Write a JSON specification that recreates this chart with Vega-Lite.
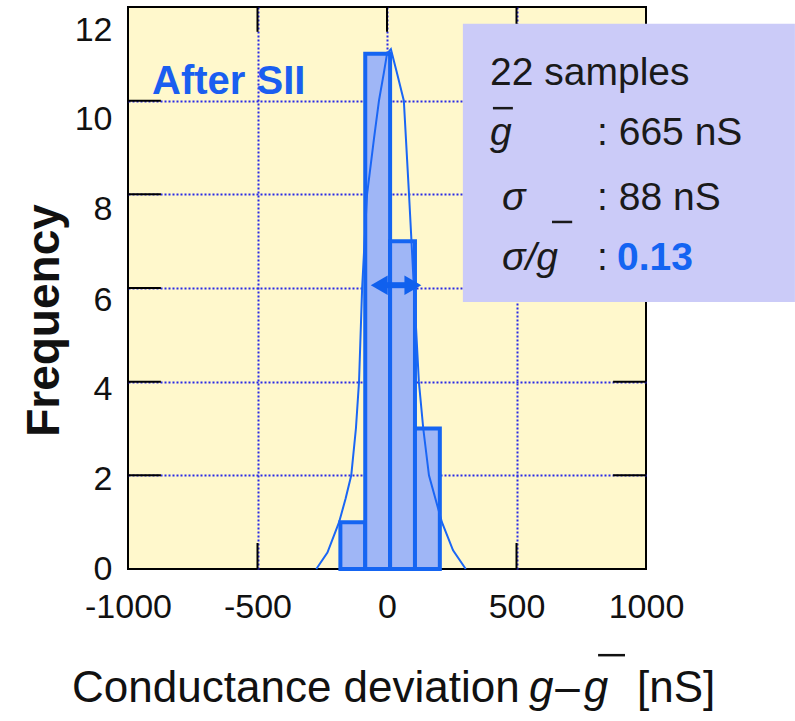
{
  "$schema": "https://vega.github.io/schema/vega-lite/v6.json",
  "width": 518,
  "height": 562,
  "autosize": {"type": "none"},
  "padding": {"left": 128, "top": 7, "right": 149, "bottom": 152},
  "background": "#ffffff",
  "view": {"fill": "#fff8cc", "stroke": "#000000", "strokeWidth": 2},
  "config": {"font": "Liberation Sans"},
  "datasets": {
    "bins": [
      {"bin_start": -180, "bin_end": -84, "count": 1},
      {"bin_start": -84, "bin_end": 12, "count": 11},
      {"bin_start": 12, "bin_end": 108, "count": 7},
      {"bin_start": 108, "bin_end": 204, "count": 3}
    ],
    "curve": [
      {"dev": -273, "freq": 0},
      {"dev": -230, "freq": 0.35},
      {"dev": -185, "freq": 1},
      {"dev": -160, "freq": 1.5},
      {"dev": -138, "freq": 2},
      {"dev": -120, "freq": 3},
      {"dev": -108, "freq": 4},
      {"dev": -96, "freq": 6},
      {"dev": -77, "freq": 8},
      {"dev": -50, "freq": 9.2},
      {"dev": -31, "freq": 10},
      {"dev": -12, "freq": 10.6},
      {"dev": 0, "freq": 11.0},
      {"dev": 15, "freq": 11.1},
      {"dev": 38, "freq": 10.6},
      {"dev": 65, "freq": 10},
      {"dev": 85, "freq": 8},
      {"dev": 104, "freq": 6},
      {"dev": 123, "freq": 4},
      {"dev": 140, "freq": 3},
      {"dev": 162, "freq": 2},
      {"dev": 212, "freq": 1},
      {"dev": 255, "freq": 0.4},
      {"dev": 304, "freq": 0}
    ],
    "yticks": [{"v": 2}, {"v": 4}, {"v": 6}, {"v": 8}, {"v": 10}],
    "xticks": [{"v": -500}, {"v": 0}, {"v": 500}]
  },
  "layer": [
    {
      "data": {"name": "bins"},
      "mark": {"type": "rect", "opacity": 0},
      "encoding": {
        "x": {
          "field": "bin_start",
          "type": "quantitative",
          "scale": {"domain": [-1000, 1000], "nice": false, "zero": false},
          "axis": {
            "values": [-1000, -500, 0, 500, 1000],
            "labelExpr": "datum.value < 0 ? '-' + abs(datum.value) : '' + datum.value",
            "grid": true,
            "gridDash": [2, 2],
            "gridWidth": 2,
            "gridColor": {"condition": {"test": "abs(datum.value) == 1000", "value": "transparent"}, "value": "#2a2ae6"},
            "ticks": false,
            "domain": false,
            "labelFontSize": 34,
            "labelColor": "#111111",
            "labelPadding": 21,
            "labelFlush": false,
            "labelOverlap": false,
            "title": null
          }
        },
        "x2": {"field": "bin_end"},
        "y": {
          "field": "count",
          "type": "quantitative",
          "scale": {"domain": [0, 12], "nice": false, "zero": false},
          "axis": {
            "orient": "left",
            "values": [0, 2, 4, 6, 8, 10, 12],
            "grid": true,
            "gridDash": [2, 2],
            "gridWidth": 2,
            "gridColor": {"condition": {"test": "datum.value == 0 || datum.value == 12", "value": "transparent"}, "value": "#2a2ae6"},
            "ticks": false,
            "domain": false,
            "labelFontSize": 34,
            "labelColor": "#111111",
            "labelPadding": 16,
            "labelOverlap": false,
            "labelFlush": false,
            "labelOffset": {"condition": [
              {"test": "datum.value == 12", "value": 23},
              {"test": "datum.value == 10", "value": 19},
              {"test": "datum.value == 8", "value": 15},
              {"test": "datum.value == 6", "value": 12},
              {"test": "datum.value == 4", "value": 8},
              {"test": "datum.value == 2", "value": 4}
            ], "value": 0},
            "title": "Frequency",
            "titleFontSize": 46,
            "titleFontWeight": "bold",
            "titleColor": "#111111",
            "titleAngle": 270,
            "titleAlign": "center",
            "titleBaseline": "middle",
            "titleX": -84,
            "titleY": 313
          }
        },
        "y2": {"datum": 0}
      }
    },
    {
      "data": {"name": "yticks"},
      "mark": {"type": "rule", "color": "#000000", "strokeWidth": 2},
      "encoding": {
        "y": {"field": "v", "type": "quantitative"},
        "x": {"datum": -1000},
        "x2": {"datum": -873}
      }
    },
    {
      "data": {"name": "yticks"},
      "mark": {"type": "rule", "color": "#000000", "strokeWidth": 2},
      "encoding": {
        "y": {"field": "v", "type": "quantitative"},
        "x": {"datum": 873},
        "x2": {"datum": 1000}
      }
    },
    {
      "data": {"name": "xticks"},
      "mark": {"type": "rule", "color": "#000000", "strokeWidth": 2},
      "encoding": {
        "x": {"field": "v", "type": "quantitative"},
        "y": {"datum": 0},
        "y2": {"datum": 0.555}
      }
    },
    {
      "data": {"name": "xticks"},
      "mark": {"type": "rule", "color": "#000000", "strokeWidth": 2},
      "encoding": {
        "x": {"field": "v", "type": "quantitative"},
        "y": {"datum": 11.47},
        "y2": {"datum": 12}
      }
    },
    {
      "data": {"name": "bins"},
      "mark": {"type": "rect", "fill": "#9fb6f6", "stroke": "#1565f2", "strokeWidth": 4},
      "encoding": {
        "x": {"field": "bin_start", "type": "quantitative"},
        "x2": {"field": "bin_end"},
        "y": {"field": "count", "type": "quantitative"},
        "y2": {"datum": 0}
      }
    },
    {
      "data": {"name": "curve"},
      "mark": {"type": "line", "color": "#1a66f5", "strokeWidth": 2},
      "encoding": {
        "x": {"field": "dev", "type": "quantitative"},
        "y": {"field": "freq", "type": "quantitative"}
      }
    },
    {
      "data": {"values": [{}]},
      "mark": {"type": "rule", "color": "#1060ee", "strokeWidth": 6},
      "encoding": {
        "x": {"datum": -23},
        "x2": {"datum": 93},
        "y": {"datum": 6.06}
      }
    },
    {
      "data": {"values": [{}]},
      "mark": {"type": "point", "shape": "triangle-left", "filled": true, "color": "#1060ee", "size": 380, "opacity": 1},
      "encoding": {
        "x": {"datum": -30},
        "y": {"datum": 6.06}
      }
    },
    {
      "data": {"values": [{}]},
      "mark": {"type": "point", "shape": "triangle-right", "filled": true, "color": "#1060ee", "size": 380, "opacity": 1},
      "encoding": {
        "x": {"datum": 100},
        "y": {"datum": 6.06}
      }
    },
    {
      "data": {"values": [{}]},
      "mark": {"type": "text", "text": "After SII", "fontSize": 40, "fontWeight": "bold", "color": "#1a5ef0", "align": "left", "baseline": "alphabetic"},
      "encoding": {
        "x": {"datum": -907},
        "y": {"datum": 10.14}
      }
    },
    {
      "data": {"values": [{}]},
      "mark": {"type": "rect", "fill": "#cbcbf8", "clip": false},
      "encoding": {
        "x": {"datum": 293},
        "x2": {"datum": 1575},
        "y": {"datum": 11.64},
        "y2": {"datum": 5.7}
      }
    },
    {
      "data": {"values": [{}]},
      "mark": {"type": "text", "text": "22 samples", "fontSize": 39, "color": "#1a1a1a", "align": "left", "baseline": "alphabetic", "clip": false},
      "encoding": {"x": {"datum": 398}, "y": {"datum": 10.34}}
    },
    {
      "data": {"values": [{}]},
      "mark": {"type": "text", "text": "g", "fontSize": 39, "fontStyle": "italic", "color": "#1a1a1a", "align": "left", "baseline": "alphabetic", "clip": false},
      "encoding": {"x": {"datum": 398}, "y": {"datum": 9.05}}
    },
    {
      "data": {"values": [{}]},
      "mark": {"type": "rule", "color": "#1a1a1a", "strokeWidth": 2.5, "clip": false},
      "encoding": {"x": {"datum": 409}, "x2": {"datum": 486}, "y": {"datum": 9.84}}
    },
    {
      "data": {"values": [{}]},
      "mark": {"type": "text", "text": ": 665 nS", "fontSize": 39, "color": "#1a1a1a", "align": "left", "baseline": "alphabetic", "clip": false},
      "encoding": {"x": {"datum": 811}, "y": {"datum": 9.05}}
    },
    {
      "data": {"values": [{}]},
      "mark": {"type": "text", "text": "σ", "fontSize": 39, "fontStyle": "italic", "color": "#1a1a1a", "align": "left", "baseline": "alphabetic", "clip": false},
      "encoding": {"x": {"datum": 444}, "y": {"datum": 7.67}}
    },
    {
      "data": {"values": [{}]},
      "mark": {"type": "text", "text": ": 88 nS", "fontSize": 39, "color": "#1a1a1a", "align": "left", "baseline": "alphabetic", "clip": false},
      "encoding": {"x": {"datum": 811}, "y": {"datum": 7.67}}
    },
    {
      "data": {"values": [{}]},
      "mark": {"type": "rule", "color": "#1a1a1a", "strokeWidth": 2.5, "clip": false},
      "encoding": {"x": {"datum": 637}, "x2": {"datum": 715}, "y": {"datum": 7.41}}
    },
    {
      "data": {"values": [{}]},
      "mark": {"type": "text", "text": "σ/g", "fontSize": 39, "fontStyle": "italic", "color": "#1a1a1a", "align": "left", "baseline": "alphabetic", "clip": false},
      "encoding": {"x": {"datum": 444}, "y": {"datum": 6.38}}
    },
    {
      "data": {"values": [{}]},
      "mark": {"type": "text", "text": ":", "fontSize": 39, "color": "#1a1a1a", "align": "left", "baseline": "alphabetic", "clip": false},
      "encoding": {"x": {"datum": 811}, "y": {"datum": 6.38}}
    },
    {
      "data": {"values": [{}]},
      "mark": {"type": "text", "text": "0.13", "fontSize": 39, "fontWeight": "bold", "color": "#1464f2", "align": "left", "baseline": "alphabetic", "clip": false},
      "encoding": {"x": {"datum": 888}, "y": {"datum": 6.38}}
    },
    {
      "data": {"values": [{}]},
      "mark": {"type": "text", "text": "Conductance deviation", "fontSize": 44, "color": "#111111", "align": "left", "baseline": "alphabetic", "clip": false},
      "encoding": {"x": {"datum": -1216}, "y": {"datum": -2.84}}
    },
    {
      "data": {"values": [{}]},
      "mark": {"type": "text", "text": "g", "fontSize": 44, "fontStyle": "italic", "color": "#111111", "align": "left", "baseline": "alphabetic", "clip": false},
      "encoding": {"x": {"datum": 548}, "y": {"datum": -2.84}}
    },
    {
      "data": {"values": [{}]},
      "mark": {"type": "text", "text": "–", "fontSize": 44, "color": "#111111", "align": "left", "baseline": "alphabetic", "clip": false},
      "encoding": {"x": {"datum": 650}, "y": {"datum": -2.84}}
    },
    {
      "data": {"values": [{}]},
      "mark": {"type": "text", "text": "g", "fontSize": 44, "fontStyle": "italic", "color": "#111111", "align": "left", "baseline": "alphabetic", "clip": false},
      "encoding": {"x": {"datum": 760}, "y": {"datum": -2.84}}
    },
    {
      "data": {"values": [{}]},
      "mark": {"type": "rule", "color": "#111111", "strokeWidth": 2.5, "clip": false},
      "encoding": {"x": {"datum": 815}, "x2": {"datum": 919}, "y": {"datum": -1.84}}
    },
    {
      "data": {"values": [{}]},
      "mark": {"type": "text", "text": "[nS]", "fontSize": 44, "color": "#111111", "align": "left", "baseline": "alphabetic", "clip": false},
      "encoding": {"x": {"datum": 965}, "y": {"datum": -2.84}}
    }
  ]
}
